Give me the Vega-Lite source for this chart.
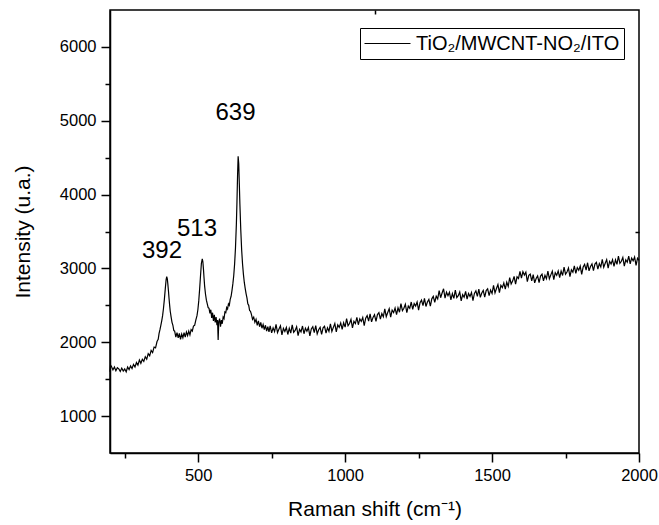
{
"$schema": "https://vega.github.io/schema/vega-lite/v6.json",
"width": 529,
"height": 443,
"autosize": {"type": "none"},
"padding": {"left": 110, "top": 10, "right": 20, "bottom": 72},
"background": "white",
"config": {"view": {"stroke": "black", "strokeWidth": 1.5}, "font": "Liberation Sans"},
"resolve": {"axis": {"x": "independent", "y": "independent"}},
"layer": [
{
"data": {"values": [
{"x":200,"y":1600},{"x":202,"y":1690},{"x":205,"y":1670},{"x":210,"y":1625},{"x":215,"y":1665},{"x":220,"y":1615},{"x":225,"y":1655},{"x":230,"y":1640},{"x":235,"y":1605},{"x":240,"y":1650},{"x":245,"y":1610},{"x":250,"y":1640},{"x":255,"y":1600},{"x":260,"y":1665},{"x":265,"y":1630},{"x":270,"y":1680},{"x":275,"y":1645},{"x":280,"y":1700},{"x":285,"y":1665},{"x":290,"y":1725},{"x":295,"y":1690},{"x":300,"y":1760},{"x":305,"y":1715},{"x":310,"y":1770},{"x":315,"y":1740},{"x":320,"y":1805},{"x":325,"y":1770},{"x":330,"y":1845},{"x":335,"y":1815},{"x":340,"y":1890},{"x":345,"y":1860},{"x":350,"y":1935},{"x":355,"y":1925},{"x":360,"y":2010},{"x":364,"y":2040},{"x":367,"y":2120},{"x":370,"y":2170},{"x":373,"y":2230},{"x":376,"y":2290},{"x":379,"y":2360},{"x":382,"y":2460},{"x":385,"y":2580},{"x":388,"y":2720},{"x":391,"y":2850},{"x":393,"y":2890},{"x":395,"y":2860},{"x":397,"y":2780},{"x":399,"y":2690},{"x":401,"y":2590},{"x":403,"y":2500},{"x":405,"y":2420},{"x":408,"y":2340},{"x":411,"y":2270},{"x":414,"y":2230},{"x":417,"y":2160},{"x":420,"y":2150},{"x":424,"y":2070},{"x":428,"y":2130},{"x":432,"y":2060},{"x":436,"y":2120},{"x":440,"y":2040},{"x":444,"y":2110},{"x":448,"y":2060},{"x":452,"y":2130},{"x":456,"y":2070},{"x":460,"y":2140},{"x":464,"y":2090},{"x":468,"y":2150},{"x":472,"y":2100},{"x":476,"y":2170},{"x":480,"y":2150},{"x":484,"y":2220},{"x":488,"y":2230},{"x":492,"y":2300},{"x":496,"y":2360},{"x":499,"y":2440},{"x":502,"y":2560},{"x":505,"y":2720},{"x":508,"y":2900},{"x":511,"y":3070},{"x":514,"y":3130},{"x":516,"y":3090},{"x":518,"y":2990},{"x":520,"y":2870},{"x":522,"y":2760},{"x":525,"y":2650},{"x":528,"y":2570},{"x":531,"y":2520},{"x":534,"y":2470},{"x":537,"y":2460},{"x":540,"y":2390},{"x":543,"y":2440},{"x":546,"y":2330},{"x":549,"y":2400},{"x":552,"y":2290},{"x":555,"y":2370},{"x":558,"y":2270},{"x":561,"y":2340},{"x":564,"y":2230},{"x":566,"y":2300},{"x":568,"y":2030},{"x":570,"y":2270},{"x":573,"y":2320},{"x":576,"y":2210},{"x":579,"y":2300},{"x":582,"y":2250},{"x":585,"y":2340},{"x":588,"y":2320},{"x":591,"y":2410},{"x":594,"y":2400},{"x":597,"y":2470},{"x":600,"y":2450},{"x":603,"y":2520},{"x":606,"y":2500},{"x":609,"y":2580},{"x":612,"y":2620},{"x":615,"y":2700},{"x":618,"y":2790},{"x":621,"y":2900},{"x":624,"y":3060},{"x":627,"y":3280},{"x":630,"y":3600},{"x":632,"y":3900},{"x":634,"y":4250},{"x":636,"y":4520},{"x":638,"y":4420},{"x":640,"y":4150},{"x":642,"y":3870},{"x":645,"y":3520},{"x":648,"y":3250},{"x":651,"y":3060},{"x":654,"y":2920},{"x":657,"y":2810},{"x":660,"y":2730},{"x":663,"y":2660},{"x":666,"y":2600},{"x":669,"y":2520},{"x":672,"y":2500},{"x":675,"y":2430},{"x":678,"y":2420},{"x":681,"y":2380},{"x":685,"y":2310},{"x":689,"y":2340},{"x":693,"y":2270},{"x":697,"y":2310},{"x":701,"y":2230},{"x":705,"y":2290},{"x":709,"y":2210},{"x":713,"y":2270},{"x":717,"y":2190},{"x":721,"y":2240},{"x":725,"y":2170},{"x":729,"y":2230},{"x":733,"y":2150},{"x":737,"y":2210},{"x":741,"y":2140},
{"x":745,"y":2223},{"x":750,"y":2127},{"x":755,"y":2195},{"x":760,"y":2143},{"x":765,"y":2242},{"x":770,"y":2130},{"x":775,"y":2178},{"x":780,"y":2222},{"x":785,"y":2100},{"x":790,"y":2188},{"x":795,"y":2147},{"x":800,"y":2200},{"x":805,"y":2105},{"x":810,"y":2190},{"x":815,"y":2125},{"x":820,"y":2235},{"x":825,"y":2135},{"x":830,"y":2160},{"x":835,"y":2210},{"x":840,"y":2090},{"x":845,"y":2175},{"x":850,"y":2140},{"x":855,"y":2220},{"x":860,"y":2115},{"x":865,"y":2190},{"x":870,"y":2150},{"x":875,"y":2200},{"x":880,"y":2085},{"x":885,"y":2180},{"x":890,"y":2210},{"x":895,"y":2130},{"x":900,"y":2225},{"x":905,"y":2112},{"x":910,"y":2169},{"x":915,"y":2201},{"x":920,"y":2108},{"x":925,"y":2195},{"x":930,"y":2217},{"x":935,"y":2124},{"x":940,"y":2196},{"x":945,"y":2148},{"x":950,"y":2250},{"x":955,"y":2146},{"x":960,"y":2202},{"x":965,"y":2253},{"x":970,"y":2139},{"x":975,"y":2235},{"x":980,"y":2201},{"x":985,"y":2262},{"x":990,"y":2173},{"x":995,"y":2264},{"x":1000,"y":2205},
{"x":1005,"y":2320},{"x":1010,"y":2224},{"x":1015,"y":2254},{"x":1020,"y":2309},{"x":1025,"y":2194},{"x":1030,"y":2283},{"x":1035,"y":2253},{"x":1040,"y":2338},{"x":1045,"y":2237},{"x":1050,"y":2317},{"x":1055,"y":2282},{"x":1060,"y":2336},{"x":1065,"y":2226},{"x":1070,"y":2326},{"x":1075,"y":2361},{"x":1080,"y":2285},{"x":1085,"y":2385},{"x":1090,"y":2276},{"x":1095,"y":2337},{"x":1100,"y":2373},{"x":1105,"y":2284},{"x":1110,"y":2375},{"x":1115,"y":2401},{"x":1120,"y":2313},{"x":1125,"y":2389},{"x":1130,"y":2345},{"x":1135,"y":2451},{"x":1140,"y":2347},{"x":1145,"y":2403},{"x":1150,"y":2454},{"x":1155,"y":2340},{"x":1160,"y":2436},{"x":1165,"y":2402},{"x":1170,"y":2464},{"x":1175,"y":2375},{"x":1180,"y":2466},{"x":1185,"y":2407},{"x":1190,"y":2523},{"x":1195,"y":2429},{"x":1200,"y":2460},
{"x":1205,"y":2515},{"x":1210,"y":2400},{"x":1215,"y":2490},{"x":1220,"y":2460},{"x":1225,"y":2545},{"x":1230,"y":2445},{"x":1235,"y":2525},{"x":1240,"y":2490},{"x":1245,"y":2545},{"x":1250,"y":2435},{"x":1255,"y":2535},{"x":1260,"y":2570},{"x":1265,"y":2495},{"x":1270,"y":2595},{"x":1275,"y":2485},{"x":1280,"y":2545},{"x":1285,"y":2580},{"x":1290,"y":2490},{"x":1295,"y":2588},{"x":1300,"y":2622},{"x":1305,"y":2540},{"x":1310,"y":2623},{"x":1315,"y":2587},{"x":1320,"y":2700},{"x":1325,"y":2603},{"x":1330,"y":2667},{"x":1335,"y":2725},{"x":1340,"y":2597},{"x":1345,"y":2679},{"x":1350,"y":2631},{"x":1355,"y":2678},{"x":1360,"y":2575},{"x":1365,"y":2660},{"x":1370,"y":2595},{"x":1375,"y":2705},{"x":1380,"y":2605},{"x":1385,"y":2630},{"x":1390,"y":2680},{"x":1395,"y":2560},{"x":1400,"y":2645},
{"x":1405,"y":2610},{"x":1410,"y":2690},{"x":1415,"y":2585},{"x":1420,"y":2660},{"x":1425,"y":2620},{"x":1430,"y":2674},{"x":1435,"y":2563},{"x":1440,"y":2662},{"x":1445,"y":2696},{"x":1450,"y":2620},{"x":1455,"y":2719},{"x":1460,"y":2608},{"x":1465,"y":2667},{"x":1470,"y":2701},{"x":1475,"y":2610},{"x":1480,"y":2699},{"x":1485,"y":2723},{"x":1490,"y":2632},{"x":1495,"y":2706},{"x":1500,"y":2660},{"x":1505,"y":2769},{"x":1510,"y":2668},{"x":1515,"y":2728},{"x":1520,"y":2782},{"x":1525,"y":2671},{"x":1530,"y":2770},{"x":1535,"y":2739},{"x":1540,"y":2803},{"x":1545,"y":2718},{"x":1550,"y":2812},{"x":1555,"y":2756},{"x":1560,"y":2875},{"x":1565,"y":2789},{"x":1570,"y":2828},{"x":1575,"y":2892},{"x":1580,"y":2787},{"x":1585,"y":2886},{"x":1590,"y":2865},{"x":1595,"y":2959},{"x":1600,"y":2868},
{"x":1605,"y":2957},{"x":1610,"y":2911},{"x":1615,"y":2949},{"x":1620,"y":2822},{"x":1625,"y":2906},{"x":1630,"y":2924},{"x":1635,"y":2832},{"x":1640,"y":2915},{"x":1645,"y":2804},{"x":1650,"y":2864},{"x":1655,"y":2898},{"x":1660,"y":2808},{"x":1665,"y":2897},{"x":1670,"y":2922},{"x":1675,"y":2831},{"x":1680,"y":2906},{"x":1685,"y":2860},{"x":1690,"y":2964},{"x":1695,"y":2859},{"x":1700,"y":2913},{"x":1705,"y":2963},{"x":1710,"y":2847},{"x":1715,"y":2942},{"x":1720,"y":2906},{"x":1725,"y":2966},{"x":1730,"y":2875},{"x":1735,"y":2964},{"x":1740,"y":2904},{"x":1745,"y":3018},{"x":1750,"y":2922},{"x":1755,"y":2952},{"x":1760,"y":3006},{"x":1765,"y":2890},{"x":1770,"y":2980},{"x":1775,"y":2949},{"x":1780,"y":3033},{"x":1785,"y":2933},{"x":1790,"y":3012},{"x":1795,"y":2976},{"x":1800,"y":3031},
{"x":1805,"y":2920},{"x":1810,"y":3019},{"x":1815,"y":3054},{"x":1820,"y":2978},{"x":1825,"y":3077},{"x":1830,"y":2967},{"x":1835,"y":3026},{"x":1840,"y":3061},{"x":1845,"y":2970},{"x":1850,"y":3059},{"x":1855,"y":3083},{"x":1860,"y":2991},{"x":1865,"y":3065},{"x":1870,"y":3019},{"x":1875,"y":3123},{"x":1880,"y":3016},{"x":1885,"y":3070},{"x":1890,"y":3119},{"x":1895,"y":3003},{"x":1900,"y":3096},{"x":1905,"y":3060},{"x":1910,"y":3119},{"x":1915,"y":3028},{"x":1920,"y":3116},{"x":1925,"y":3055},{"x":1930,"y":3167},{"x":1935,"y":3069},{"x":1940,"y":3096},{"x":1945,"y":3148},{"x":1950,"y":3030},{"x":1955,"y":3117},{"x":1960,"y":3084},{"x":1965,"y":3166},{"x":1970,"y":3063},{"x":1975,"y":3140},{"x":1980,"y":3102},{"x":1985,"y":3154},{"x":1990,"y":3041},{"x":1995,"y":3138},{"x":2000,"y":3110}
]},
"mark": {"type": "line", "strokeWidth": 1.2, "color": "black"},
"encoding": {
"x": {"field": "x", "type": "quantitative", "scale": {"domain": [200, 2000], "nice": false, "zero": false},
"axis": {"orient": "bottom", "title": "Raman shift (cm⁻¹)", "values": [250,500,750,1000,1250,1500,1750,2000], "format": "d",
"labelExpr": "datum.value % 500 === 0 ? datum.label : ''",
"tickSize": {"condition": {"test": "datum.value % 500 === 0", "value": 9}, "value": 5},
"grid": false, "domainColor": "black", "domainWidth": 1.5, "tickColor": "black", "tickWidth": 1.5,
"labelFont": "Liberation Sans", "labelFontSize": 16.5, "labelColor": "black", "labelPadding": 5, "labelFlush": false,
"titleFont": "Liberation Sans", "titleFontSize": 21, "titleFontWeight": "normal", "titleColor": "black", "titlePadding": 15}},
"y": {"field": "y", "type": "quantitative", "scale": {"domain": [500, 6500], "nice": false, "zero": false},
"axis": {"orient": "left", "title": "Intensity (u.a.)", "values": [1000,1500,2000,2500,3000,3500,4000,4500,5000,5500,6000], "format": "d",
"labelExpr": "datum.value % 1000 === 0 ? datum.label : ''",
"tickSize": {"condition": {"test": "datum.value % 1000 === 0", "value": 9}, "value": 5},
"grid": false, "domainColor": "black", "domainWidth": 1.5, "tickColor": "black", "tickWidth": 1.5,
"labelFont": "Liberation Sans", "labelFontSize": 16.5, "labelColor": "black", "labelPadding": 5, "labelFlush": false,
"titleFont": "Liberation Sans", "titleFontSize": 21, "titleFontWeight": "normal", "titleColor": "black", "titlePadding": 26}},
"color": {"datum": "TiO₂/MWCNT-NO₂/ITO", "type": "nominal", "scale": {"range": ["black"]},
"legend": {"orient": "none", "legendX": 250, "legendY": 18, "title": null, "symbolType": "stroke", "symbolSize": 2116,
"symbolStrokeWidth": 1, "symbolStrokeColor": "#333333", "strokeColor": "black", "fillColor": "white", "padding": 4,
"clipHeight": 23, "labelLimit": 400,
"labelFont": "Liberation Sans", "labelFontSize": 20, "labelColor": "black", "labelOffset": 5}}
}
},
{
"data": {"values": [
{"x": 377, "y": 3145, "t": "392"},
{"x": 496, "y": 3434, "t": "513"},
{"x": 627, "y": 5007, "t": "639"}
]},
"mark": {"type": "text", "fontSize": 24, "baseline": "alphabetic", "align": "center", "font": "Liberation Sans", "color": "black"},
"encoding": {
"x": {"field": "x", "type": "quantitative", "axis": {"orient": "top", "title": null, "values": [1100], "labels": false, "domain": false, "grid": false, "tickSize": -4, "tickColor": "black", "tickWidth": 1.5}},
"y": {"field": "y", "type": "quantitative", "axis": {"orient": "right", "title": null, "values": [3500], "labels": false, "domain": false, "grid": false, "tickSize": -4, "tickColor": "black", "tickWidth": 1.5}},
"text": {"field": "t"}
}
}
]
}
